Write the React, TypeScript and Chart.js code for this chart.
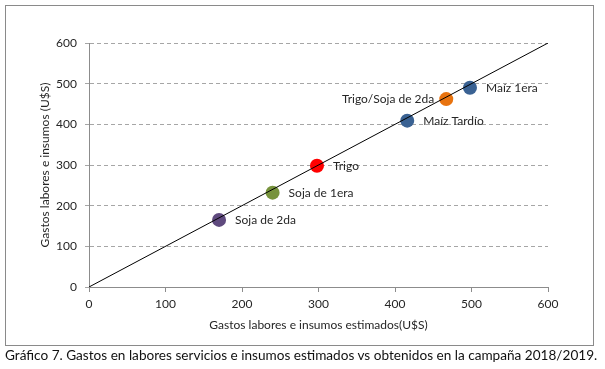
import React, { useEffect, useRef } from "react";
import { Chart, registerables } from "chart.js";

Chart.register(...registerables);

const crops = ["Soja de 2da", "Soja de 1era", "Trigo", "Maíz Tardío", "Trigo/Soja de 2da", "Maíz 1era"];
const estimated = [170, 240, 298, 416, 467, 498];
const obtained = [165, 232, 298, 409, 462, 490];
const pointColors = ["#5F4A7E", "#77933C", "#FF0000", "#3A6293", "#E8730F", "#3A6293"];
const labelSide = ["right", "right", "right", "right", "left", "right"];
const identityLine = [0, 600];
const axisMin = 0;
const axisMax = 600;
const axisStep = 100;
const xTitle = "Gastos labores e insumos estimados(U$S)";
const yTitle = "Gastos labores e insumos (U$S)";
const caption = "Gráfico 7. Gastos en labores servicios e insumos estimados vs obtenidos en la campaña 2018/2019.";

const FONT = "Lato, 'Open Sans', sans-serif";
const TEXT = "#262626";

const labelPlugin = {
  id: "pointLabels",
  afterDatasetsDraw(chart: any) {
    const ctx = chart.ctx;
    const meta = chart.getDatasetMeta(1);
    ctx.save();
    ctx.font = `12px ${FONT}`;
    ctx.fillStyle = TEXT;
    ctx.textBaseline = "middle";
    meta.data.forEach((el: any, i: number) => {
      if (labelSide[i] === "left") {
        ctx.textAlign = "right";
        ctx.fillText(crops[i], el.x - 12, el.y);
      } else {
        ctx.textAlign = "left";
        ctx.fillText(crops[i], el.x + 16, el.y);
      }
    });
    ctx.restore();
  },
};

const titlePlugin = {
  id: "axisTitles",
  afterDraw(chart: any) {
    const { ctx, chartArea } = chart;
    ctx.save();
    ctx.font = `12px ${FONT}`;
    ctx.fillStyle = TEXT;
    ctx.textAlign = "center";
    ctx.textBaseline = "middle";
    ctx.fillText(xTitle, (chartArea.left + chartArea.right) / 2, chartArea.bottom + 38);
    ctx.translate(chartArea.left - 44, (chartArea.top + chartArea.bottom) / 2);
    ctx.rotate(-Math.PI / 2);
    ctx.fillText(yTitle, 0, 0);
    ctx.restore();
  },
};

export default function App() {
  const ref = useRef<HTMLCanvasElement | null>(null);

  useEffect(() => {
    if (!ref.current) return;
    const chart = new Chart(ref.current, {
      type: "scatter",
      data: {
        datasets: [
          {
            type: "line",
            data: identityLine.map((v) => ({ x: v, y: v })),
            borderColor: "#000000",
            borderWidth: 1,
            pointRadius: 0,
            fill: false,
          } as any,
          {
            type: "scatter",
            data: estimated.map((x, i) => ({ x, y: obtained[i] })),
            backgroundColor: pointColors,
            borderColor: pointColors,
            borderWidth: 0,
            pointRadius: 7,
          },
        ],
      },
      plugins: [labelPlugin, titlePlugin],
      options: {
        animation: false,
        responsive: false,
        layout: { padding: { top: 43, right: 57, left: 0, bottom: 0 } },
        plugins: { legend: { display: false }, tooltip: { enabled: false } },
        scales: {
          x: {
            type: "linear",
            min: axisMin,
            max: axisMax,
            afterFit: (s: any) => {
              s.height = 82;
            },
            ticks: { stepSize: axisStep, color: TEXT, font: { family: FONT, size: 12 }, padding: 5 },
            grid: { drawOnChartArea: false, drawTicks: true, tickLength: 5, color: "#8C8C8C" },
            border: { display: true, color: "#8C8C8C", width: 1 },
          },
          y: {
            type: "linear",
            min: axisMin,
            max: axisMax,
            afterFit: (s: any) => {
              s.width = 89;
            },
            ticks: { stepSize: axisStep, color: TEXT, font: { family: FONT, size: 12 }, padding: 8 },
            grid: {
              drawTicks: true,
              tickLength: 4,
              color: "#A6A6A6",
              lineWidth: 1,
              tickColor: "#A6A6A6",
              tickBorderDash: [4, 3],
            } as any,
            border: { display: true, color: "#8C8C8C", width: 1, dash: [4, 3] } as any,
          },
        },
      } as any,
    });
    return () => chart.destroy();
  }, []);

  return (
    <div style={{ position: "fixed", left: 0, top: 0, width: 605, height: 369, background: "#fff" }}>
      <canvas ref={ref} width={605} height={369} style={{ position: "absolute", left: 0, top: 0 }} />
      <div
        style={{
          position: "absolute",
          left: 5,
          top: 5,
          width: 587,
          height: 339,
          border: "1px solid #8A8A8A",
          pointerEvents: "none",
        }}
      />
      <div
        style={{
          position: "absolute",
          left: 5,
          top: 347,
          font: `13.6px ${FONT}`,
          color: "#111",
          whiteSpace: "nowrap",
          lineHeight: "16px",
        }}
      >
        {caption}
      </div>
    </div>
  );
}
